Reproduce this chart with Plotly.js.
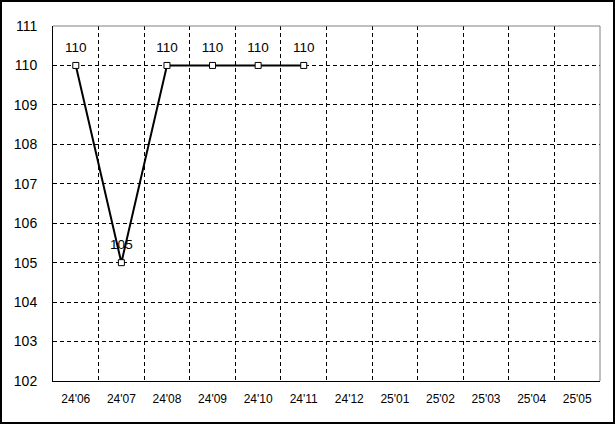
<!DOCTYPE html>
<html>
<head>
<meta charset="utf-8">
<script src="https://cdn.plot.ly/plotly-3.0.1.min.js"></script>
<style>
  html, body { margin: 0; padding: 0; background: #fff; }
  #wrap { position: relative; width: 615px; height: 424px; }
  #chart { position: absolute; left: 0; top: 0; width: 615px; height: 424px; }
  #frame { position: absolute; left: 0; top: 0; width: 615px; height: 424px; box-sizing: border-box; border: 2px solid #000; pointer-events: none; }
</style>
</head>
<body>
<div id="wrap"><div id="chart"></div><div id="frame"></div></div>
<script>
const categories = ["24'06","24'07","24'08","24'09","24'10","24'11","24'12","25'01","25'02","25'03","25'04","25'05"];
const values = [110, 105, 110, 110, 110, 110];
const labels = ["110", "105", "110", "110", "110", "110"];
const yTicks = [102, 103, 104, 105, 106, 107, 108, 109, 110, 111];

const fam = "Liberation Sans, Arial, sans-serif";

const lineTrace = {
  type: "scatter",
  mode: "lines+markers",
  x: categories.slice(0, values.length),
  y: values,
  line: { color: "#000", width: 2 },
  marker: { symbol: "square", size: 6, color: "#fff", line: { color: "#000", width: 1 } },
  hoverinfo: "none"
};

const labelTrace = {
  type: "scatter",
  mode: "markers+text",
  x: categories.slice(0, values.length),
  y: values,
  text: labels,
  textposition: "top center",
  textfont: { family: fam, size: 13.5, color: "#000" },
  marker: { size: 15, color: "rgba(0,0,0,0)", line: { width: 0 } },
  cliponaxis: false,
  hoverinfo: "none"
};

const layout = {
  width: 615, height: 424,
  margin: { l: 53, r: 15, t: 26, b: 43, pad: 0 },
  paper_bgcolor: "#fff", plot_bgcolor: "#fff",
  showlegend: false,
  font: { family: fam, size: 13, color: "#000" },
  xaxis: {
    type: "category",
    categoryorder: "array",
    categoryarray: categories,
    tickvals: categories,
    ticktext: categories,
    range: [-0.5, 11.5],
    tickson: "boundaries",
    showgrid: true, gridcolor: "#000", gridwidth: 1, griddash: "4px,3px",
    showline: true, linecolor: "#000", linewidth: 1,
    ticks: "", ticklabelstandoff: 7,
    tickfont: { family: fam, size: 12, color: "#000" },
    zeroline: false, fixedrange: true
  },
  yaxis: {
    range: [102, 111],
    tickvals: yTicks,
    showgrid: true, gridcolor: "#000", gridwidth: 1, griddash: "4px,3px",
    showline: true, linecolor: "#000", linewidth: 1,
    ticks: "outside", ticklen: 12, tickcolor: "rgba(0,0,0,0)",
    tickfont: { family: fam, size: 14, color: "#000" },
    zeroline: false, fixedrange: true
  },
  shapes: [
    { type: "line", xref: "paper", yref: "paper", x0: 0, x1: 1, y0: 1, y1: 1, line: { color: "#808080", width: 1 } },
    { type: "line", xref: "paper", yref: "paper", x0: 1, x1: 1, y0: 0, y1: 1, line: { color: "#808080", width: 1 } }
  ]
};

Plotly.newPlot("chart", [lineTrace, labelTrace], layout, { staticPlot: true, displayModeBar: false });
</script>
</body>
</html>
